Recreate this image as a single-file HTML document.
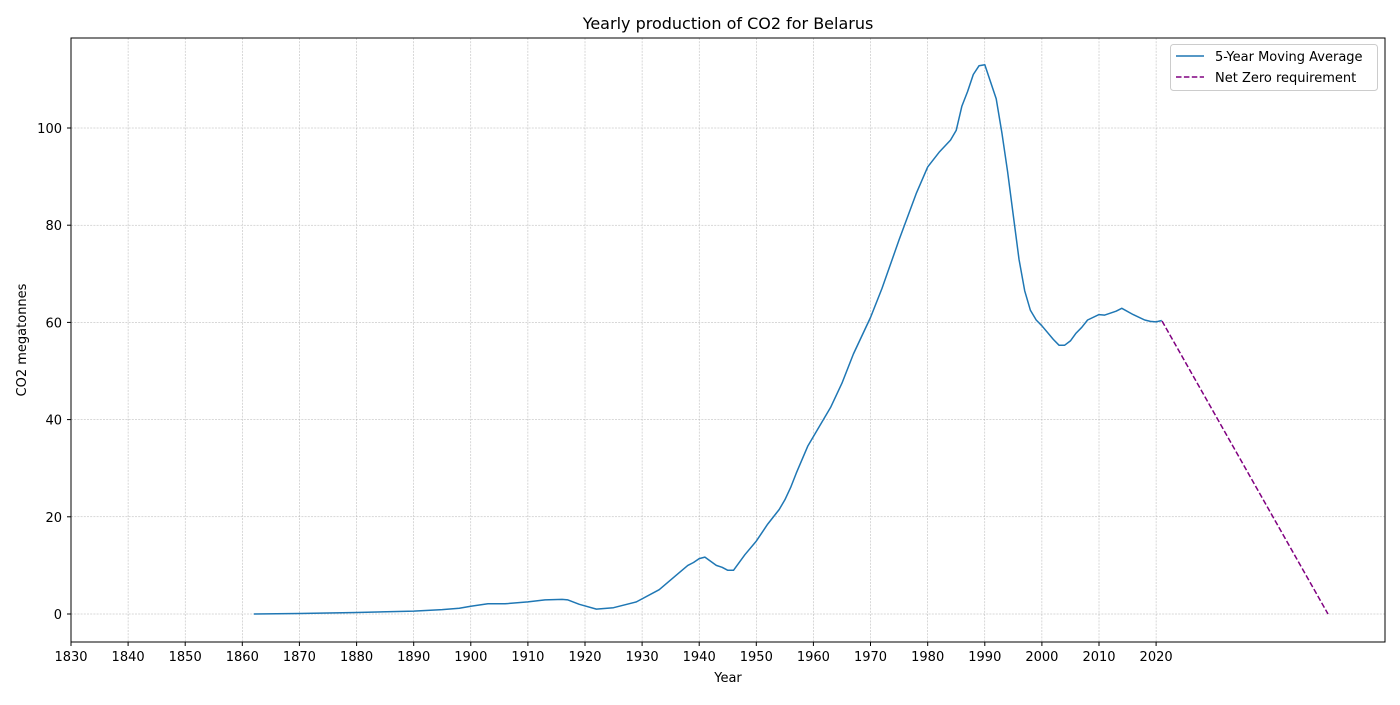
<!DOCTYPE html>
<html><head><meta charset="utf-8"><style>
body{margin:0;background:#fff;}
svg text{font-family:"DejaVu Sans","Liberation Sans",sans-serif;fill:#000;}
</style></head><body>
<svg id="s" width="1400" height="700" xmlns="http://www.w3.org/2000/svg">
<rect width="1400" height="700" fill="#fff"/>
<g id="grid"></g>
<polyline id="ma" fill="none" stroke="#1f77b4" stroke-width="1.5" stroke-linejoin="round"/>
<line x1="1162" y1="321" x2="1328" y2="614" stroke="#800080" stroke-width="1.5" stroke-dasharray="5.5,2.4"/>
<rect x="71" y="38" width="1314" height="604" fill="none" stroke="#000" stroke-width="1"/>
<g id="ticks" font-size="13"></g>
<text x="728" y="29" font-size="16" text-anchor="middle">Yearly production of CO2 for Belarus</text>
<text x="728" y="682" font-size="13" text-anchor="middle">Year</text>
<text transform="translate(26,340) rotate(-90)" font-size="13" text-anchor="middle">CO2 megatonnes</text>
<rect x="1170.5" y="44.5" width="207" height="46" rx="3" fill="#fff" fill-opacity="0.8" stroke="#ccc"/>
<line x1="1176" y1="56" x2="1204" y2="56" stroke="#1f77b4" stroke-width="1.5"/>
<line x1="1176" y1="77" x2="1204" y2="77" stroke="#800080" stroke-width="1.5" stroke-dasharray="5.5,2.4"/>
<text x="1215" y="61" font-size="13">5-Year Moving Average</text>
<text x="1215" y="82" font-size="13">Net Zero requirement</text>
</svg>
<script>
var X=function(y){return 71+(y-1830)*5.711;},Y=function(v){return 614-v*4.86;};
var d=[[1862,0],[1870,0.1],[1880,0.3],[1890,0.6],[1895,0.9],[1898,1.2],[1900,1.6],[1903,2.1],[1906,2.1],[1910,2.5],[1913,2.9],[1916,3.0],[1917,2.9],[1919,2.0],[1922,1.0],[1925,1.3],[1929,2.5],[1933,5],[1936,8],[1938,10],[1939,10.6],[1940,11.4],[1941,11.7],[1943,10],[1944,9.6],[1945,9],[1946,9],[1948,12.2],[1950,15],[1952,18.5],[1954,21.5],[1955,23.5],[1956,26],[1957,29],[1959,34.5],[1961,38.5],[1963,42.5],[1965,47.5],[1967,53.5],[1970,61],[1972,67],[1975,77],[1978,86.5],[1980,92],[1982,95],[1984,97.5],[1985,99.5],[1986,104.5],[1987,107.5],[1988,111],[1989,112.8],[1990,113],[1992,106],[1993,99],[1994,91],[1995,82],[1996,73],[1997,66.5],[1998,62.5],[1999,60.5],[2000,59.3],[2002,56.5],[2003,55.3],[2004,55.3],[2005,56.2],[2006,57.8],[2007,59],[2008,60.5],[2010,61.6],[2011,61.5],[2013,62.3],[2014,62.9],[2016,61.6],[2018,60.5],[2019,60.2],[2020,60.1],[2021,60.4]];
document.getElementById('ma').setAttribute('points',d.map(function(p){return X(p[0]).toFixed(1)+','+Y(p[1]).toFixed(1)}).join(' '));
var g='',t='';
for(var yr=1830;yr<=2020;yr+=10){var x=X(yr).toFixed(1);g+='<line x1="'+x+'" y1="38" x2="'+x+'" y2="642" stroke="#b0b0b0" stroke-width="0.5" stroke-dasharray="2,1.2"/>';t+='<line x1="'+x+'" y1="642" x2="'+x+'" y2="646" stroke="#000"/><text x="'+x+'" y="661" text-anchor="middle">'+yr+'</text>';}
for(var v=0;v<=100;v+=20){var y=Y(v).toFixed(1);g+='<line x1="71" y1="'+y+'" x2="1385" y2="'+y+'" stroke="#b0b0b0" stroke-width="0.5" stroke-dasharray="2,1.2"/>';t+='<line x1="67" y1="'+y+'" x2="71" y2="'+y+'" stroke="#000"/><text x="62" y="'+(+y+5)+'" text-anchor="end">'+v+'</text>';}
document.getElementById('grid').innerHTML=g;document.getElementById('ticks').innerHTML=t;
</script>
</body></html>
